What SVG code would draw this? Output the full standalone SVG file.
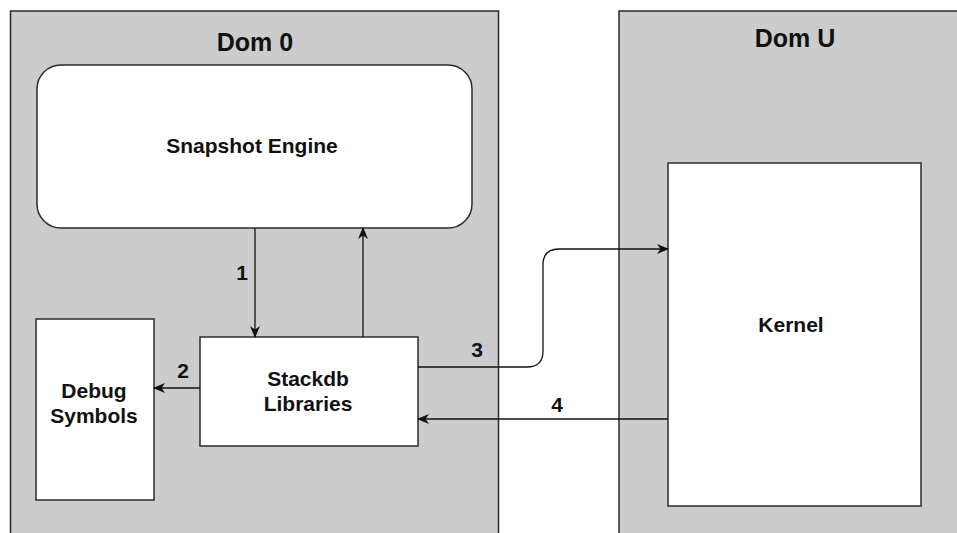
<svg xmlns="http://www.w3.org/2000/svg" width="957" height="533" viewBox="0 0 957 533">
  <style>
    .domain { fill: #cccccc; stroke: #2b2b2b; stroke-width: 1.5; }
    .box { fill: #ffffff; stroke: #2b2b2b; stroke-width: 1.5; }
    .title { font-family: "Liberation Sans", Arial, sans-serif; font-weight: bold; font-size: 25px; fill: #111; text-anchor: middle; }
    .label { font-family: "Liberation Sans", Arial, sans-serif; font-weight: bold; font-size: 21px; fill: #111; text-anchor: middle; }
    .edge { fill: none; stroke: #111; stroke-width: 1.3; }
  </style>
  <defs>
    <marker id="arrow" viewBox="0 0 12 10" refX="11" refY="5" markerWidth="12" markerHeight="10" markerUnits="userSpaceOnUse" orient="auto">
      <path d="M0,0 L12,5 L0,10 L3.5,5 Z" fill="#111"/>
    </marker>
  </defs>

  <rect width="957" height="533" fill="#ffffff"/>

  <!-- domains -->
  <g id="dom0">
    <rect class="domain" x="10.5" y="11" width="488" height="540"/>
    <text class="title" x="255" y="51">Dom 0</text>
  </g>
  <g id="domU">
    <rect class="domain" x="619" y="11" width="360" height="540"/>
    <text class="title" x="795" y="47">Dom U</text>
  </g>

  <!-- nodes -->
  <g id="snapshot-engine">
    <rect class="box" x="37" y="65" width="435" height="163" rx="24" ry="24"/>
    <text class="label" x="252" y="153">Snapshot Engine</text>
  </g>
  <g id="debug-symbols">
    <rect class="box" x="36" y="319" width="118" height="181"/>
    <text class="label" x="94" y="398">Debug</text>
    <text class="label" x="94" y="423">Symbols</text>
  </g>
  <g id="stackdb-libraries">
    <rect class="box" x="200" y="337" width="218" height="109"/>
    <text class="label" x="308" y="386">Stackdb</text>
    <text class="label" x="308" y="411">Libraries</text>
  </g>
  <g id="kernel">
    <rect class="box" x="668" y="163" width="253" height="343"/>
    <text class="label" x="791" y="332">Kernel</text>
  </g>

  <!-- connectors -->
  <g id="connectors">
    <path class="edge" d="M255,228 V337" marker-end="url(#arrow)"/>
    <path class="edge" d="M363,337 V228" marker-end="url(#arrow)"/>
    <path class="edge" d="M200,388 H154" marker-end="url(#arrow)"/>
    <path class="edge" d="M418,367 H527 Q543,367 543,351 V265 Q543,249 559,249 H668" marker-end="url(#arrow)"/>
    <path class="edge" d="M668,419 H418" marker-end="url(#arrow)"/>
    <text class="label" x="242" y="280">1</text>
    <text class="label" x="183" y="378">2</text>
    <text class="label" x="477" y="357">3</text>
    <text class="label" x="557" y="412">4</text>
  </g>
</svg>
